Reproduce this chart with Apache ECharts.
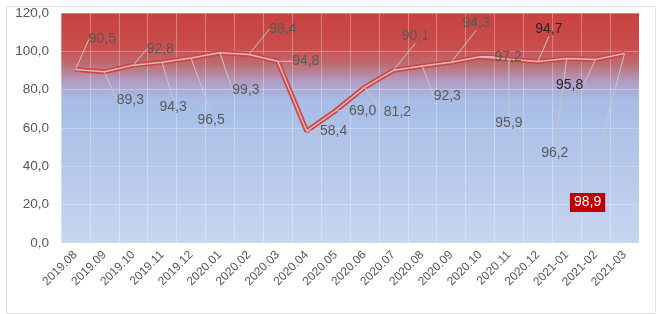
<!DOCTYPE html>
<html>
<head>
<meta charset="utf-8">
<script src="https://cdn.jsdelivr.net/npm/echarts@6/dist/echarts.min.js"></script>
<style>
  html, body { margin: 0; padding: 0; background: #fff; }
  #main { width: 658px; height: 314px; }
</style>
</head>
<body>
<div id="main"></div>
<script>
// 月份
const months = ['2019.08', '2019.09', '2019.10', '2019.11', '2019.12', '2020.01', '2020.02',
  '2020.03', '2020.04', '2020.05', '2020.06', '2020.07', '2020.08', '2020.09', '2020.10',
  '2020.11', '2020.12', '2021-01', '2021-02', '2021-03'];
// 数值
const rates = [90.5, 89.3, 92.8, 94.3, 96.5, 99.3, 98.4, 94.8, 58.4, 69.0, 81.2, 90.1,
  92.3, 94.3, 97.2, 95.9, 94.7, 96.2, 95.8, 98.9];
const yTicks = [0, 20, 40, 60, 80, 100, 120];

// label offsets from the point (px)
const labelShift = [
  [27, -30], [26, 28], [27, -16], [11, 45], [20, 62], [26, 37], [34, -25], [28, 0],
  [27, 0], [27, 0], [33, 25], [22, -34], [25, 30], [25, -39], [28, 0], [0, 64],
  [11, -32], [-12, 95], [-26, 26], [-37, 149]
];

const fmt = v => v.toFixed(1).replace('.', ',');

let chart = echarts.init(document.getElementById('main'));

let labelData = rates.map((v, i) => {
  let item = { value: v };
  if (i === 16 || i === 18) {
    item.label = { color: '#262626' };
  }
  if (i === rates.length - 1) {
    item.label = {
      color: '#fff',
      backgroundColor: '#c00000',
      padding: [3, 4, 2, 4]
    };
  }
  return item;
});

let option = {
  animation: false,
  graphic: [{
    type: 'rect',
    left: 4, top: 4,
    shape: { width: 649, height: 307 },
    style: { fill: 'none', stroke: '#e2e2e2', lineWidth: 1 },
    silent: true
  }],
  grid: {
    left: 61, right: 19, top: 13, bottom: 71,
    show: true,
    borderWidth: 0,
    backgroundColor: new echarts.graphic.LinearGradient(0, 0, 0, 1, [
      { offset: 0, color: '#c8423f' },
      { offset: 0.15, color: '#c84e4c' },
      { offset: 0.22, color: '#bf6a70' },
      { offset: 0.3, color: '#b09ec6' },
      { offset: 0.38, color: '#a7bde6' },
      { offset: 1, color: '#c7d5ef' }
    ])
  },
  xAxis: {
    type: 'category',
    data: months,
    boundaryGap: true,
    axisLine: { show: false },
    axisTick: { show: false },
    splitLine: { show: true, lineStyle: { color: 'rgba(255,255,255,0.3)' } },
    axisLabel: {
      rotate: 45,
      interval: 0,
      color: '#595959',
      fontSize: 12,
      fontFamily: 'Liberation Sans, Arial, sans-serif',
      margin: 10
    }
  },
  yAxis: {
    type: 'value',
    min: yTicks[0],
    max: yTicks[yTicks.length - 1],
    interval: 20,
    axisLine: { show: false },
    axisTick: { show: false },
    splitLine: { lineStyle: { color: 'rgba(255,255,255,0.3)' } },
    axisLabel: {
      color: '#595959',
      fontSize: 13.5,
      fontFamily: 'Liberation Sans, Arial, sans-serif',
      formatter: v => fmt(v),
      margin: 12
    }
  },
  series: [
    {
      type: 'line',
      data: rates,
      symbol: 'none',
      lineStyle: { color: '#c44b49', width: 5 },
      z: 2
    },
    {
      type: 'line',
      data: labelData,
      symbol: 'circle',
      symbolSize: 1,
      itemStyle: { color: 'rgba(0,0,0,0)' },
      lineStyle: { color: '#f0b4b2', width: 1.5 },
      z: 3,
      label: {
        show: true,
        position: 'inside',
        color: '#595959',
        fontSize: 14,
        fontFamily: 'Liberation Sans, Arial, sans-serif',
        formatter: p => fmt(p.value)
      },
      labelLine: {
        show: true,
        lineStyle: { color: '#c8c8c8', width: 1 }
      },
      labelLayout: p => ({
        dx: labelShift[p.dataIndex][0],
        dy: labelShift[p.dataIndex][1],
        hideOverlap: false
      })
    }
  ]
};

chart.setOption(option);
</script>
</body>
</html>
